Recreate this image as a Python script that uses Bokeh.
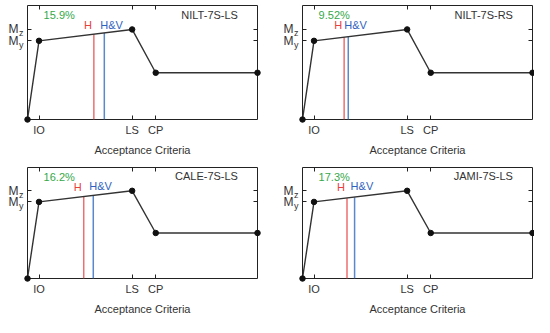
from bokeh.plotting import figure
from bokeh.models import LinearAxis, FixedTicker, Label, Range1d
from bokeh.layouts import gridplot
from bokeh.embed import file_html
from bokeh.resources import INLINE

# ---- data ----
titles = ["NILT-7S-LS", "NILT-7S-RS", "CALE-7S-LS", "JAMI-7S-LS"]
percent_labels = ["15.9%", "9.52%", "16.2%", "17.3%"]
curve_x = [0.0, 1.0, 9.1, 11.15, 20.0]
curve_y = [0.0, 0.69, 0.79, 0.41, 0.41]
x_tick_values = [1.0, 9.1, 11.15]
x_tick_labels = ["IO", "LS", "CP"]
y_tick_values = [0.69, 0.79]
y_tick_subs = ["y", "z"]
h_x = [5.77, 3.62, 4.89, 3.87]
h_top = [0.748, 0.721, 0.737, 0.724]
hv_x = [6.68, 3.98, 5.72, 4.53]
hv_top = [0.759, 0.726, 0.747, 0.732]

FONT = "Liberation Sans"
TXT = "#333333"
FRAME = "#222222"
RED_LINE = "#ee6f6f"
RED_TXT = "#e8403c"
BLUE_LINE = "#5a88cc"
BLUE_TXT = "#2f62c0"
GREEN = "#35a84a"
SUB_SHIFT = 0.035  # subscript drop, in axis units


def make_panel(i, row, col):
    p = figure(width=267, height=158 if row == 0 else 159,
               x_range=Range1d(0, 20), y_range=Range1d(0, 1),
               output_backend="svg", toolbar_location=None,
               min_border_left=27 if col == 0 else 35,
               min_border_right=10 if col == 0 else 2,
               min_border_top=5 if row == 0 else 9,
               min_border_bottom=37 if row == 0 else 34,
               x_axis_label="Acceptance Criteria")
    p.grid.visible = False
    p.outline_line_color = FRAME
    p.outline_line_width = 1
    p.outline_line_alpha = 1.0

    xa = p.xaxis[0]
    xa.ticker = FixedTicker(ticks=x_tick_values)
    xa.major_label_overrides = {v: lab for v, lab in zip(x_tick_values, x_tick_labels)}
    xa.major_tick_in = 4
    xa.major_tick_out = 0
    xa.minor_tick_line_color = None
    xa.axis_line_color = None
    xa.major_tick_line_color = FRAME
    xa.major_label_text_font = FONT
    xa.major_label_text_font_size = "11px"
    xa.major_label_text_color = TXT
    xa.major_label_standoff = 4
    xa.axis_label_text_font = FONT
    xa.axis_label_text_font_size = "11px"
    xa.axis_label_text_font_style = "normal"
    xa.axis_label_text_color = TXT
    xa.axis_label_standoff = 5

    # inner left axis: tick marks only
    ya = p.yaxis[0]
    ya.ticker = FixedTicker(ticks=y_tick_values)
    ya.major_label_overrides = {v: "" for v in y_tick_values}
    ya.major_tick_in = 4
    ya.major_tick_out = 0
    ya.minor_tick_line_color = None
    ya.axis_line_color = None
    ya.major_tick_line_color = FRAME
    ya.major_label_text_font_size = "1px"
    ya.major_label_standoff = 0

    # middle left axis: subscripts, dropped slightly below each tick
    sub_pos = [round(v - SUB_SHIFT, 3) for v in y_tick_values]
    ys = LinearAxis(ticker=FixedTicker(ticks=sub_pos),
                    major_label_overrides={v: s for v, s in zip(sub_pos, y_tick_subs)},
                    major_tick_in=0, major_tick_out=0, minor_tick_line_color=None,
                    axis_line_color=None, major_tick_line_color=None,
                    major_label_standoff=4, major_label_text_font=FONT,
                    major_label_text_font_size="9px", major_label_text_color=TXT)
    p.add_layout(ys, "left")

    # outer left axis: the "M" letters
    ym = LinearAxis(ticker=FixedTicker(ticks=y_tick_values),
                    major_label_overrides={v: "M" for v in y_tick_values},
                    major_tick_in=0, major_tick_out=0, minor_tick_line_color=None,
                    axis_line_color=None, major_tick_line_color=None,
                    major_label_standoff=-3, major_label_text_font=FONT,
                    major_label_text_font_size="12px", major_label_text_color=TXT)
    p.add_layout(ym, "left")

    top = LinearAxis(ticker=FixedTicker(ticks=x_tick_values),
                     major_label_overrides={v: "" for v in x_tick_values},
                     major_tick_in=4, major_tick_out=0, minor_tick_line_color=None,
                     axis_line_color=None, major_tick_line_color=FRAME,
                     major_label_standoff=0, major_label_text_font_size="1px")
    p.add_layout(top, "above")
    right = LinearAxis(ticker=FixedTicker(ticks=y_tick_values),
                       major_label_overrides={v: "" for v in y_tick_values},
                       major_tick_in=4, major_tick_out=0, minor_tick_line_color=None,
                       axis_line_color=None, major_tick_line_color=FRAME,
                       major_label_standoff=0, major_label_text_font_size="1px")
    p.add_layout(right, "right")

    p.segment(x0=[h_x[i]], y0=[0], x1=[h_x[i]], y1=[h_top[i]],
              line_color=RED_LINE, line_width=1.5)
    p.segment(x0=[hv_x[i]], y0=[0], x1=[hv_x[i]], y1=[hv_top[i]],
              line_color=BLUE_LINE, line_width=1.5)
    p.line(curve_x, curve_y, line_color="#333333", line_width=1.4)
    p.scatter(curve_x, curve_y, size=5.5, color="#111111", level="overlay")

    p.add_layout(Label(x=18.3, y=0.92, text=titles[i], text_align="right",
                       text_baseline="middle", text_font=FONT,
                       text_font_size="11px", text_color=TXT))
    p.add_layout(Label(x=1.4, y=0.915, text=percent_labels[i], text_align="left",
                       text_baseline="middle", text_font=FONT,
                       text_font_size="11px", text_color=GREEN))
    p.add_layout(Label(x=h_x[i], y=0.825, x_offset=-2, text="H", text_align="right",
                       text_baseline="middle", text_font=FONT,
                       text_font_size="11px", text_color=RED_TXT))
    p.add_layout(Label(x=hv_x[i], y=0.83, x_offset=-4, text="H&V", text_align="left",
                       text_baseline="middle", text_font=FONT,
                       text_font_size="11px", text_color=BLUE_TXT))
    return p


panels = [make_panel(i, i // 2, i % 2) for i in range(4)]
grid = gridplot([[panels[0], panels[1]], [panels[2], panels[3]]], toolbar_location=None)

open("out.html", "w").write(file_html(grid, INLINE))
